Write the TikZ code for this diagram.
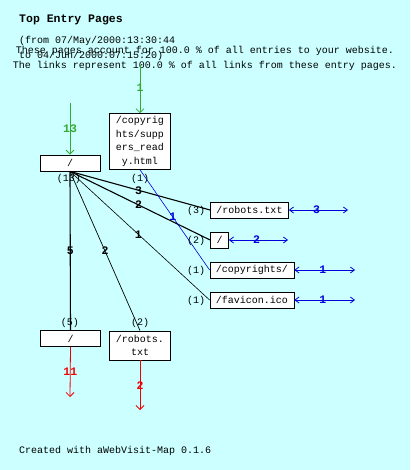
\documentclass[tikz,border=0pt]{standalone}
\usepackage{fontspec}
\setmonofont{Liberation Mono}
\usetikzlibrary{arrows.meta}
\definecolor{bgc}{HTML}{CCFFFF}
\definecolor{grn}{HTML}{33AA33}
\definecolor{blu}{HTML}{0000DD}
\definecolor{rd}{HTML}{EE0000}
\tikzset{
  txt/.style={inner sep=0pt, font=\ttfamily\fontsize{10}{13.5}\selectfont},
  pagebox/.style={draw, fill=white, line width=0.8pt, inner xsep=3pt, inner ysep=2pt, minimum height=16pt, align=center, font=\ttfamily\fontsize{10}{13.5}\selectfont},
  cnt/.style={inner sep=0pt, font=\ttfamily\fontsize{10}{12}\selectfont},
  lbl/.style={inner sep=0pt, font=\ttfamily\bfseries\fontsize{11.5}{12}\selectfont},
  inarrow/.style={draw=grn, line width=0.8pt, -{Straight Barb[length=4pt,width=8pt]}},
  outarrow/.style={draw=rd, line width=0.8pt, -{Straight Barb[length=4pt,width=8pt]}},
  linkarrow/.style={draw=blu, line width=0.8pt, {Straight Barb[length=4pt,width=6pt]}-{Straight Barb[length=4pt,width=6pt]}},
  link/.style={draw=black}
}
\begin{document}
\begin{tikzpicture}[x=1pt,y=-1pt]
\fill[bgc] (0,0) rectangle (410,470);
\useasboundingbox (0,0) rectangle (410,470);

% header texts
\node[txt, anchor=west, font=\ttfamily\bfseries\fontsize{11.5}{13}\selectfont] (title) at (19,20) {Top Entry Pages};
\node[txt, anchor=west] (from) at (19,41) {(from 07/May/2000:13:30:44};
\node[txt, anchor=west] (to) at (19,56) {to 04/Jun/2000:07:15:20)};
\node[txt] (l1) at (205,51) {These pages account for 100.0 \% of all entries to your website.};
\node[txt] (l2) at (205,66) {The links represent 100.0 \% of all links from these entry pages.};

% nodes
\node[pagebox, minimum width=60pt] (root) at (70,163) {/};
\node[pagebox, minimum width=61pt, text width=55pt, inner ysep=3pt] (copy) at (140,141.5) {/copyrig\\hts/supp\\ers\_read\\y.html};
\node[pagebox, inner xsep=6pt] (robots) at (249.5,210) {/robots.txt};
\node[pagebox, inner xsep=6pt] (slash) at (219.5,240) {/};
\node[pagebox, inner xsep=6pt] (copyr) at (252,270) {/copyrights/};
\node[pagebox, inner xsep=6pt] (fav) at (252,300) {/favicon.ico};
\node[pagebox, minimum width=60pt] (root2) at (70.5,338.5) {/};
\node[pagebox, minimum width=60pt, text width=55pt, minimum height=29pt] (rob2) at (140,345.5) {/robots.\\txt};

% free ends
\coordinate (in1) at (70,103);
\coordinate (in2) at (140,65);
\coordinate (out1) at (70,397);
\coordinate (out2) at (140,410);
\coordinate (e1) at (348,210);
\coordinate (e2) at (288,240);
\coordinate (e3) at (355,270);
\coordinate (e4) at (355,300);

% entry arrows
\draw[inarrow] (in1) -- (root.north) node[lbl, text=grn, pos=0.5] {13};
\draw[inarrow] (in2) -- (copy.north) node[lbl, text=grn, pos=0.47] {1};

% links
\draw[link, line width=1.1pt] (root.south) -- (robots.west) node[lbl, pos=0.49] {3};
\draw[link, line width=1.1pt] (root.south) -- (slash.west) node[lbl, pos=0.49] {2};
\draw[link, line width=0.6pt] (root.south) -- (fav.west) node[lbl, pos=0.49] {1};
\draw[link, line width=1.1pt] (root.south) -- (root2.north) node[lbl, pos=0.5] {5};
\draw[link, line width=0.7pt] (root.south) -- (rob2.north) node[lbl, pos=0.5] {2};
\draw[draw=blu, line width=0.6pt] (copy.south) -- (copyr.west) node[lbl, text=blu, pos=0.47] {1};

% counts
\node[cnt] (c13) at (69,179) {(13)};
\node[cnt] (c1) at (140,179) {(1)};
\node[cnt] (c3) at (196,211) {(3)};
\node[cnt] (c2) at (196,241) {(2)};
\node[cnt] (c1b) at (196,271) {(1)};
\node[cnt] (c1c) at (196,301) {(1)};
\node[cnt] (c5) at (70,323) {(5)};
\node[cnt] (c2b) at (140,323) {(2)};

% outgoing link arrows
\draw[linkarrow] (robots.east) -- (e1) node[lbl, text=blu, pos=0.47] {3};
\draw[linkarrow] (slash.east) -- (e2) node[lbl, text=blu, pos=0.47] {2};
\draw[linkarrow] (copyr.east) -- (e3) node[lbl, text=blu, pos=0.47] {1};
\draw[linkarrow] (fav.east) -- (e4) node[lbl, text=blu, pos=0.47] {1};

% exit arrows
\draw[outarrow] (root2.south) -- (out1) node[lbl, text=rd, pos=0.5] {11};
\draw[outarrow] (rob2.south) -- (out2) node[lbl, text=rd, pos=0.5] {2};

\node[txt, anchor=west] (foot) at (19,451) {Created with aWebVisit-Map 0.1.6};
\end{tikzpicture}
\end{document}
